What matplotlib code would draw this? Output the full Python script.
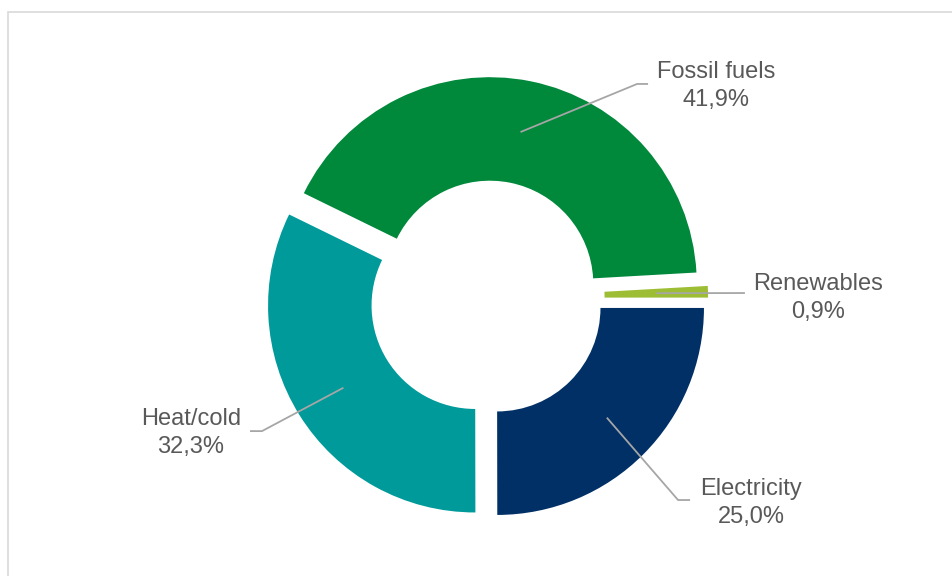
import numpy as np
import matplotlib.pyplot as plt
from matplotlib.patches import Rectangle

plt.rcParams['font.family'] = ['Liberation Sans', 'DejaVu Sans']

# data (clockwise from 3 o'clock)
labels = ["Electricity", "Heat/cold", "Fossil fuels", "Renewables"]
shares = [25.0, 32.3, 41.9, 0.9]
pct_text = ["25,0%", "32,3%", "41,9%", "0,9%"]
colors = ["#003066", "#009A9A", "#00883B", "#9DBE34"]

# label layout: text centre and leader elbow (data units, radius = 1)
text_pos = [(1.275, -0.99), (-1.43, -0.652), (1.106, 1.024), (1.60, 0.0)]
elbow_pos = [(0.923, -0.976), (-1.087, -0.643), (0.725, 1.034), (1.246, 0.024)]
stub = [0.058, -0.058, 0.053, 0.0]

fig = plt.figure(figsize=(9.52, 5.76), dpi=100)
ax = fig.add_axes([0, 0, 1, 1])

explode = 0.068
wedges, _ = ax.pie(shares, colors=colors, startangle=0, counterclock=False,
                   explode=[explode] * len(shares), radius=1,
                   wedgeprops=dict(width=0.5, linewidth=0))

grey = "#A6A6A6"
for w, tp, el, st, lab, pct in zip(wedges, text_pos, elbow_pos, stub, labels, pct_text):
    mid = np.deg2rad((w.theta1 + w.theta2) / 2)
    r0 = 0.75 + explode
    x0, y0 = r0 * np.cos(mid), r0 * np.sin(mid)
    xs = [x0, el[0], el[0] + st]
    ys = [y0, el[1], el[1]]
    ax.plot(xs, ys, color=grey, lw=1.3, solid_capstyle="butt", zorder=5)
    ax.text(tp[0], tp[1], f"{lab}\n{pct}", ha="center", va="center",
            fontsize=17, color="#595959", linespacing=1.32, zorder=6)

ax.set_aspect("equal")
ax.set_xlim(-487 / 207, (952 - 487) / 207)
ax.set_ylim(-(576 - 298) / 207, 298 / 207)
ax.axis("off")

# chart area border
fig.patches.append(Rectangle((8 / 952, -0.1), 1.2, 1.1 - 12 / 576,
                             transform=fig.transFigure, fill=False,
                             edgecolor="#D9D9D9", lw=1.2))

fig.savefig("out.png", dpi=100)
